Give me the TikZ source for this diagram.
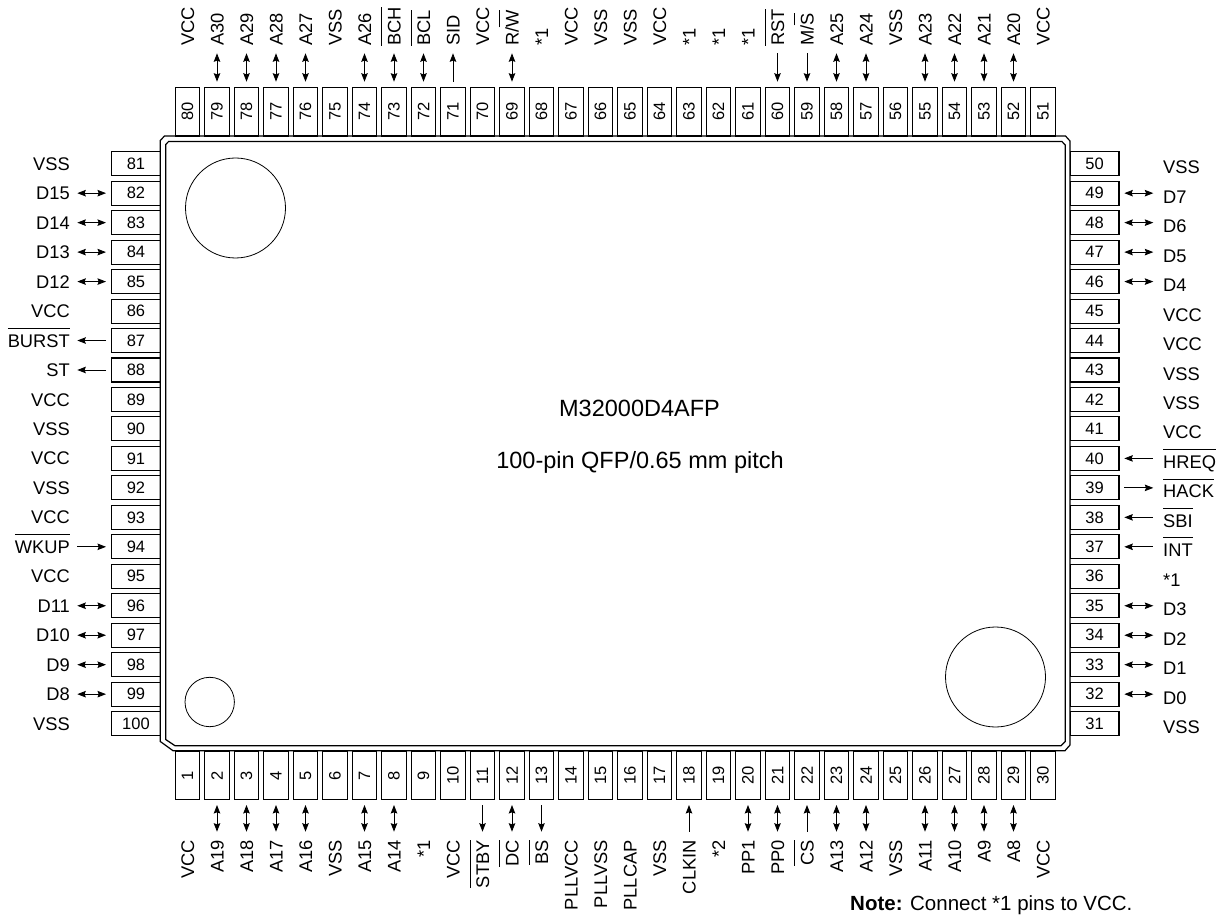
\documentclass[tikz,border=0pt]{standalone}
\usepackage{fontspec}
\setmainfont{Liberation Sans}
\usepackage{graphicx}
\usetikzlibrary{arrows.meta}
\newcommand\ovl[1]{\setbox0=\hbox{#1}\rlap{\rule[1.02em]{\wd0}{0.7pt}}\box0}
\tikzset{
  pinbox/.style={draw, line width=1.1pt, inner sep=0pt, font=\fontsize{16.5}{16.5}\selectfont},
  hbox/.style={pinbox, minimum width=48.6pt, minimum height=24pt},
  vbox/.style={pinbox, rotate=90, minimum width=48.7pt, minimum height=24.5pt},
  lab/.style={font=\fontsize{18.3}{20}\selectfont, inner sep=0pt, text height=13.1pt, text depth=0pt},
  con/.style={line width=0.9pt},
  pintip/.tip={Stealth[length=8.5pt,width=6.5pt,inset=1.2pt]},
  botharr/.style={con, pintip-pintip},
  inarr/.style={con, pintip-},
  outarr/.style={con, -pintip},
  chipbody/.style={line width=1.2pt},
  circmark/.style={line width=0.8pt},
  title/.style={font=\fontsize{23.5}{26}\selectfont, inner sep=0pt, anchor=base}
}
\begin{document}
\begin{tikzpicture}[x=1pt, y=-1pt]
\useasboundingbox (0,0) rectangle (1228,917);
% package body
\draw[chipbody] (164.5,136) -- (1065.5,136) -- (1070,141) -- (1070,745) -- (1065,750.7) -- (173,750.7) -- (160.3,741.5) -- (160.3,140.5) -- cycle;
\draw[chipbody] (168.5,141.6) -- (1062,141.6) -- (1065.2,145) -- (1065.2,741.5) -- (1061,745.7) -- (175,745.7) -- (165.7,739.5) -- (165.7,144.5) -- cycle;
\draw[circmark] (235.5,208) circle (50);
\draw[circmark] (995.5,677) circle (50);
\draw[circmark] (209.7,702) circle (24.7);
\node[title] (partno) at (639.5,416.7) {M32000D4AFP};
\node[title] (pkg) at (640,468.3) {100-pin QFP/0.65 mm pitch};
% pins
\foreach \p in {1,...,30}
  \node[vbox] (p\p) at ({187.5+(\p-1)*29.5}, 775.5) {\p};
\foreach \p in {51,...,80}
  \node[vbox] (p\p) at ({187.5+(80-\p)*29.5}, 111.65) {\p};
\foreach \p in {81,...,100}
  \node[hbox] (p\p) at (136, {163.7+(\p-81)*29.47}) {\p};
\foreach \p in {31,...,50}
  \node[hbox] (p\p) at (1094.65, {163.7+(50-\p)*29.47}) {\p};
% labels bottom
\foreach \p/\t in {1/VCC,2/A19,3/A18,4/A17,5/A16,6/VSS,7/A15,8/A14,9/*1,10/VCC,11/{\ovl{STBY}},12/{\ovl{DC}},13/{\ovl{BS}},14/PLLVCC,15/PLLVSS,16/PLLCAP,17/VSS,18/CLKIN,19/*2,20/PP1,21/PP0,22/{\ovl{CS}},23/A13,24/A12,25/VSS,26/A11,27/A10,28/A9,29/A8,30/VCC}
  \node[lab, rotate=90, anchor=east] (l\p) at ({187.5+(\p-1)*29.5}, 840) {\t};
% labels top
\foreach \p/\t in {80/VCC,79/A30,78/A29,77/A28,76/A27,75/VSS,74/A26,73/{\ovl{BCH}},72/{\ovl{BCL}},71/SID,70/VCC,69/{R/\ovl{W}},68/*1,67/VCC,66/VSS,65/VSS,64/VCC,63/*1,62/*1,61/*1,60/{\ovl{RST}},59/{M/\ovl{S}},58/A25,57/A24,56/VSS,55/A23,54/A22,53/A21,52/A20,51/VCC}
  \node[lab, rotate=90, anchor=west] (l\p) at ({187.5+(80-\p)*29.5}, 46) {\t};
% labels left
\foreach \p/\t in {81/VSS,82/D15,83/D14,84/D13,85/D12,86/VCC,87/{\ovl{BURST}},88/ST,89/VCC,90/VSS,91/VCC,92/VSS,93/VCC,94/{\ovl{WKUP}},95/VCC,96/D11,97/D10,98/D9,99/D8,100/VSS}
  \node[lab, anchor=east] (l\p) at (70, {163.7+(\p-81)*29.47}) {\t};
% labels right
\foreach \p/\t in {50/VSS,49/D7,48/D6,47/D5,46/D4,45/VCC,44/VCC,43/VSS,42/VSS,41/VCC,40/{\ovl{HREQ}},39/{\ovl{HACK}},38/{\ovl{SBI}},37/{\ovl{INT}},36/*1,35/D3,34/D2,33/D1,32/D0,31/VSS}
  \node[lab, anchor=west] (l\p) at (1163, {167.2+(50-\p)*29.47}) {\t};
% connectors bottom
\foreach \p/\s in {2/botharr,3/botharr,4/botharr,5/botharr,7/botharr,8/botharr,11/outarr,12/botharr,13/outarr,18/inarr,20/botharr,21/botharr,22/inarr,23/botharr,24/botharr,26/botharr,27/botharr,28/botharr,29/botharr} {
  \coordinate (a\p) at ({187.5+(\p-1)*29.5}, 805);
  \coordinate (b\p) at ({187.5+(\p-1)*29.5}, 831.7);
  \draw[\s] (a\p) -- (b\p);
}
% connectors top
\foreach \p/\s in {79/botharr,78/botharr,77/botharr,76/botharr,74/botharr,73/botharr,72/botharr,71/outarr,69/botharr,60/inarr,59/inarr,58/botharr,57/botharr,55/botharr,54/botharr,53/botharr,52/botharr} {
  \coordinate (a\p) at ({187.5+(80-\p)*29.5}, 81.7);
  \coordinate (b\p) at ({187.5+(80-\p)*29.5}, 53.3);
  \draw[\s] (a\p) -- (b\p);
}
% connectors left
\foreach \p/\s in {82/botharr,83/botharr,84/botharr,85/botharr,87/outarr,88/outarr,94/inarr,96/botharr,97/botharr,98/botharr,99/botharr} {
  \coordinate (a\p) at (106, {163.7+(\p-81)*29.47});
  \coordinate (b\p) at (77.3, {163.7+(\p-81)*29.47});
  \draw[\s] (a\p) -- (b\p);
}
% connectors right
\foreach \p/\s in {49/botharr,48/botharr,47/botharr,46/botharr,40/inarr,39/outarr,38/inarr,37/inarr,35/botharr,34/botharr,33/botharr,32/botharr} {
  \coordinate (a\p) at (1124.3, {163.7+(50-\p)*29.47});
  \coordinate (b\p) at (1153.3, {163.7+(50-\p)*29.47});
  \draw[\s] (a\p) -- (b\p);
}
\node[anchor=base west, font=\fontsize{20.5}{22}\selectfont, inner sep=0pt] (note) at (850,910) {\textbf{Note:} Connect *1 pins to VCC.};
\end{tikzpicture}
\end{document}
